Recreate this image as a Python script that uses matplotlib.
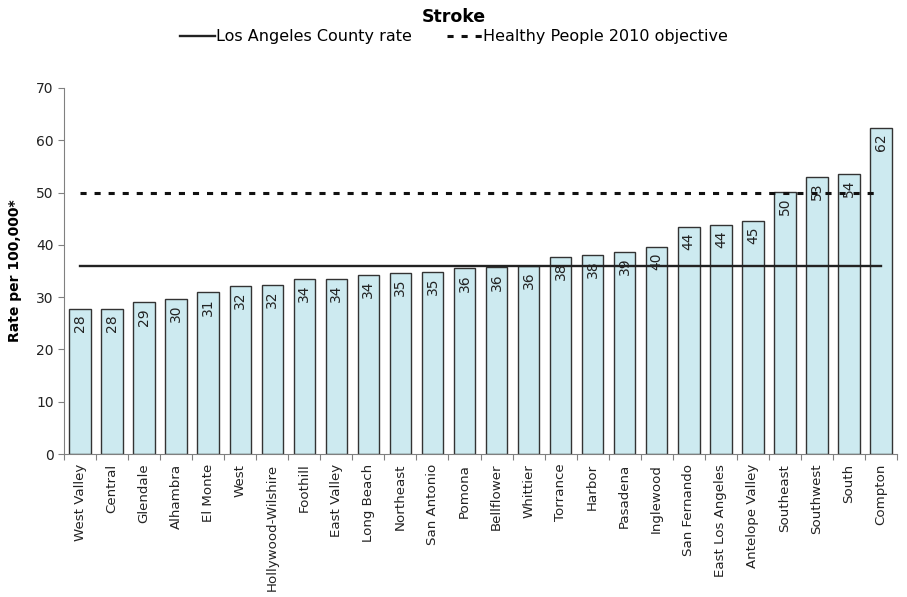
import matplotlib
matplotlib.use("Agg")
import matplotlib.pyplot as plt

# Stroke death rates by health district (per 100,000)
districts = ["West Valley", "Central", "Glendale", "Alhambra", "El Monte", "West",
             "Hollywood-Wilshire", "Foothill", "East Valley", "Long Beach", "Northeast",
             "San Antonio", "Pomona", "Bellflower", "Whittier", "Torrance", "Harbor",
             "Pasadena", "Inglewood", "San Fernando", "East Los Angeles",
             "Antelope Valley", "Southeast", "Southwest", "South", "Compton"]
rates = [27.7, 27.8, 29.0, 29.7, 30.9, 32.1, 32.3, 33.5, 33.5, 34.2, 34.6, 34.9,
         35.5, 35.7, 35.9, 37.7, 38.1, 38.7, 39.6, 43.5, 43.8, 44.5, 50.1, 53.0,
         53.5, 62.4]
rate_labels = ["28", "28", "29", "30", "31", "32", "32", "34", "34", "34", "35", "35",
               "36", "36", "36", "38", "38", "39", "40", "44", "44", "45", "50", "53",
               "54", "62"]
county_rate = 36.0
hp2010_objective = 50.0

fig = plt.figure(figsize=(9.07, 5.97), dpi=100)
ax = fig.add_axes([0.0706, 0.2395, 0.9184, 0.6131])

x = list(range(len(districts)))
ax.bar(x, rates, width=0.67, color="#CDEAF0", edgecolor="#333333", linewidth=1.0, zorder=2)

# value labels inside the top of each bar
for xi, val, lab in zip(x, rates, rate_labels):
    ax.annotate(lab, (xi, val), xytext=(0, -4), textcoords="offset points",
                rotation=90, ha="center", va="top", fontsize=10, color="#222222", zorder=3)

first, last = x[0], x[-1]
ax.plot([first, last], [county_rate, county_rate], color="#222222", linewidth=1.7,
        zorder=4, label="Los Angeles County rate")
ax.plot([first, last], [hp2010_objective, hp2010_objective], color="#111111",
        linewidth=2.2, dashes=(2, 2.6), zorder=4, label="Healthy People 2010 objective")

ax.set_xlim(-0.5, len(districts) - 0.5)
ax.set_ylim(0, 70)
ax.set_yticks(range(0, 71, 10))
ax.tick_params(axis="y", labelsize=10, colors="#222222", length=4, color="#808080")

# category ticks sit between bars, Excel style
ax.set_xticks([i - 0.5 for i in range(len(districts) + 1)])
ax.set_xticklabels([])
ax.set_xticks(x, minor=True)
ax.set_xticklabels(districts, minor=True, rotation=90, fontsize=9.6, color="#222222")
ax.tick_params(axis="x", which="major", length=4, color="#808080")
ax.tick_params(axis="x", which="minor", length=0, pad=7)

for side in ["top", "right"]:
    ax.spines[side].set_visible(False)
for side in ["left", "bottom"]:
    ax.spines[side].set_color("#808080")

ax.set_ylabel("Rate per 100,000*", fontsize=10, fontweight="bold", labelpad=10)

fig.suptitle("Stroke", x=0.5, y=0.986, fontsize=12.5, fontweight="bold")
fig.legend(loc="upper center", bbox_to_anchor=(0.5, 0.975), ncol=2, frameon=False,
           fontsize=11.5, handlelength=2.2, handletextpad=0.05, columnspacing=2.2)

fig.savefig("out.png", dpi=100)
